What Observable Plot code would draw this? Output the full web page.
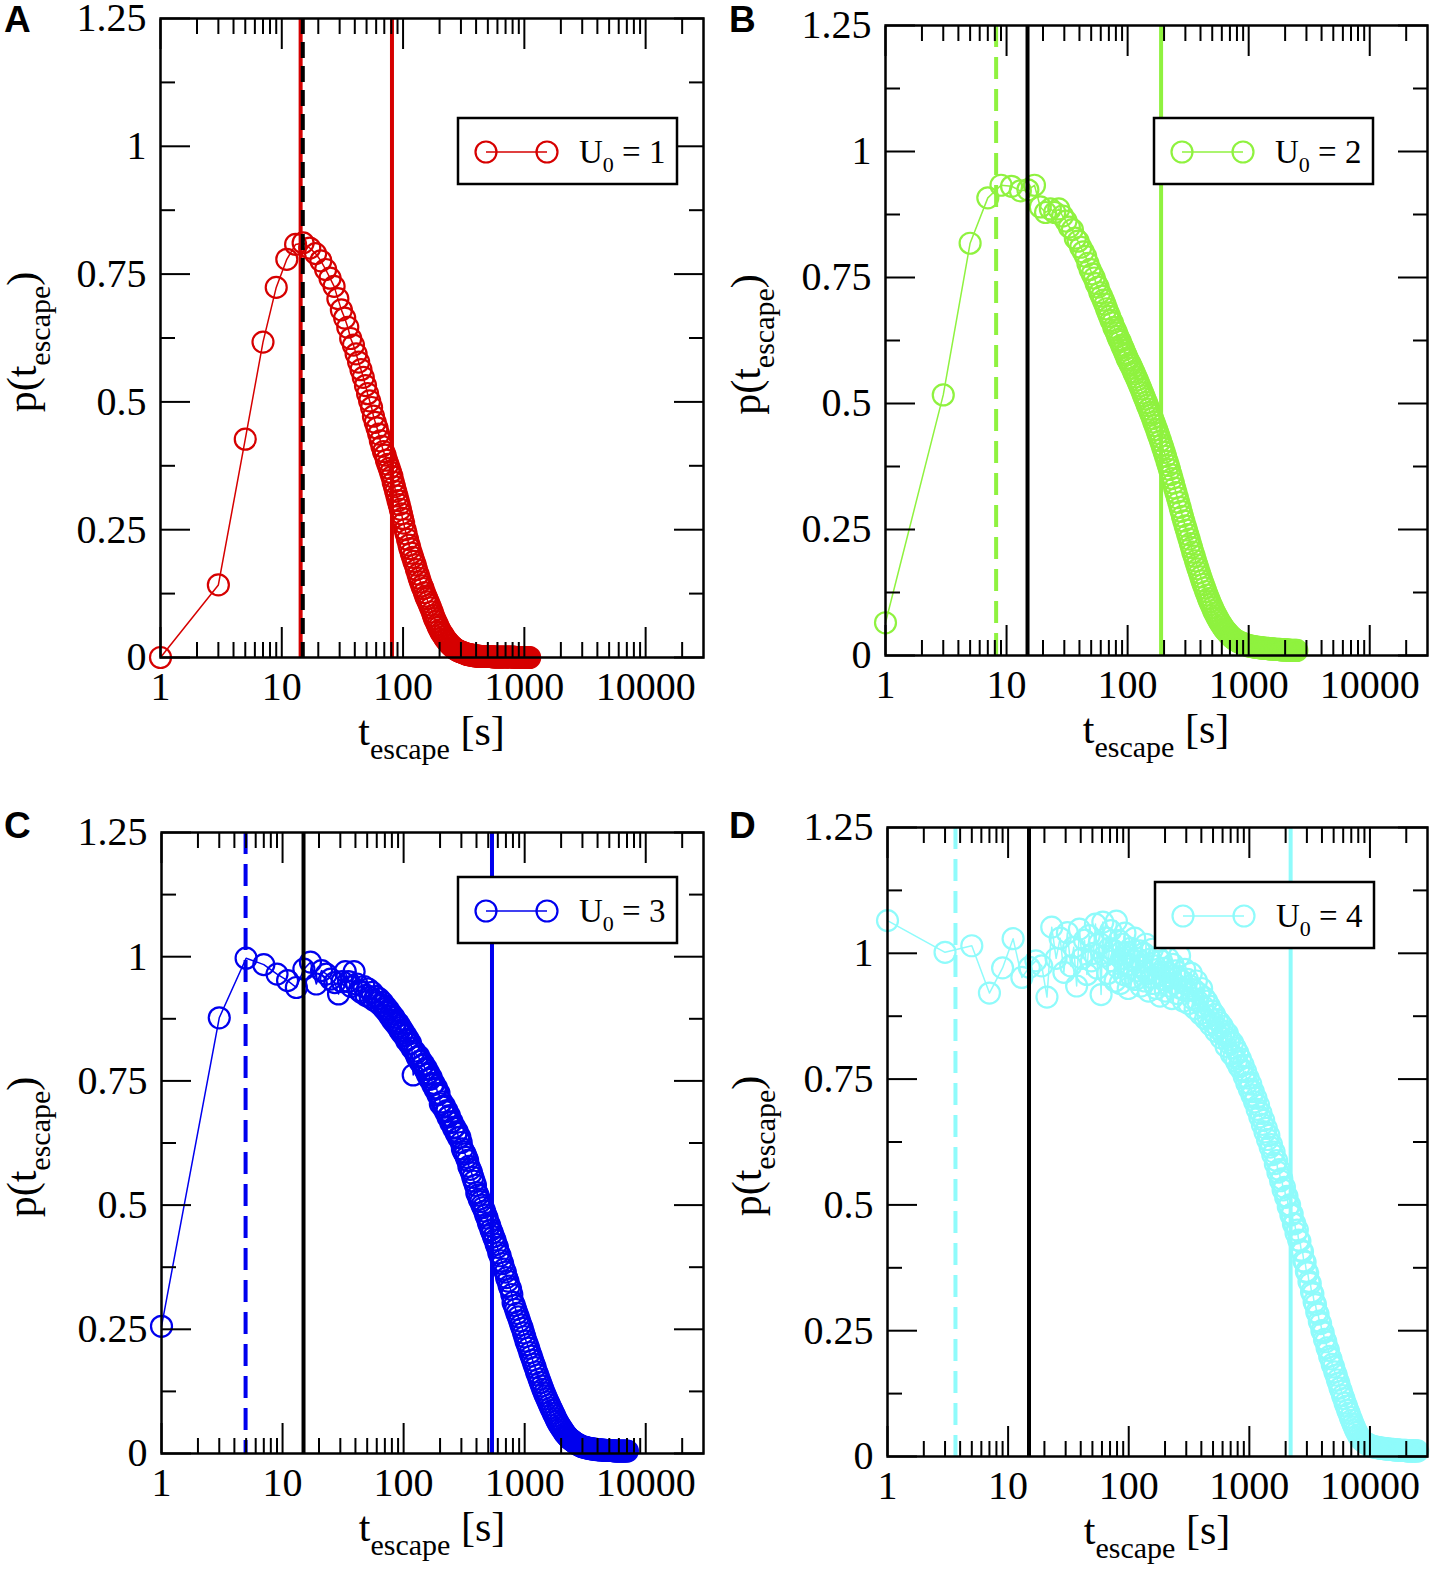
<!DOCTYPE html>
<html>
<head>
<meta charset="utf-8">
<script src="https://cdn.jsdelivr.net/npm/d3@7"></script>
<script src="https://cdn.jsdelivr.net/npm/@observablehq/plot@0.6"></script>
<style>
  body { margin: 0; background: white; }
  #chart { position: relative; width: 1435px; height: 1573px; background: white; }
  #chart svg { position: absolute; }
</style>
</head>
<body>
<div id="chart"></div>
<script>
// bin centres (escape time, s) shared by the four histograms
const tGrid = [1,3,5,7,9,11,13,15,17,19,21,23,25,27,29,31,33,35,37,39,41,43,45,47,49,
  51,53,55,57,59,61,63,65,67,69,71,73,75,77,79,81,83,85,87,89,91,93,95,97,99,
  101,104,106,109,112,114,117,120,123,126,129,133,136,139,143,146,150,154,157,161,
  165,169,174,178,182,187,192,196,201,206,212,217,222,228,233,239,245,251,258,264,
  271,277,284,291,299,306,314,322,330,338,346,355,364,373,382,392,402,412,422,433,
  443,454,466,477,489,502,514,527,540,554,568,582,596,611,627,642,658,675,692,709,
  727,745,764,783,802,822,843,864,886,908,931,954,978,1002,1027,1053,1079,1106,1134,1162,
  1191,1221,1252,1283,1315,1348,1382,1416,1452,1488,1525,1563,1603,1643,1684,1726,1769,1813,1859,1905,
  1953,2002,2052,2103,2156,2210,2265,2321,2379,2439,2500,2562,2626,2692,2759,2828,2899,2972,3046,3122,
  3200,3280,3362,3446,3533,3621,3712,3804,3900,3997,4097,4200,4305,4412,4522,4635,4751,4870,4992,5117,
  5245,5376,5510,5648,5789,5934,6082,6234,6390,6550,6714,6882,7054,7230,7411,7596,7786,7981,8180,8385,
  8594,8809,9029,9255,9487,9724,9967,10216,10472,10734,11002,11277,11559,11848,12144,12448,12759,13078,13405,13740,
  14084,14436,14797,15167,15546,15935,16333,16741,17160,17589,18029,18480,18942,19415,19901,20398,20908,21431,21967,22516,
  23079,23656,24248,24854];

// p(t_escape)
const pA = [0,0.142,0.427,0.617,0.724,0.779,0.808,0.811,0.801,0.790,0.776,0.759,0.742,0.726,0.702,0.680,0.664,0.646,0.624,0.611,0.594,0.578,0.563,0.548,0.532,
  0.516,0.502,0.489,0.472,0.460,0.449,0.437,0.424,0.413,0.403,0.396,0.386,0.378,0.370,0.362,0.354,0.343,0.334,0.325,0.316,0.307,0.299,0.290,0.281,0.272,
  0.263,0.250,0.242,0.231,0.220,0.213,0.204,0.196,0.188,0.181,
  0.172,0.163,0.155,0.148,0.140,0.135,0.127,0.120,0.115,0.109,
  0.103,0.097,0.089,0.082,0.076,0.070,0.064,0.059,0.054,0.049,
  0.045,0.041,0.037,0.034,0.031,0.028,0.025,0.023,0.020,0.018,
  0.016,0.015,0.013,0.012,0.011,0.010,0.009,0.008,0.007,0.006,
  0.006,0.005,0.005,0.004,0.004,0.003,0.003,0.003,0.002,0.002,
  0.002,0.002,0.002,0.002,0.002,0.002,0.002,0.002,0.002,0.001,
  0.001,0.001,0.001,0.001,0.001,0.001,0.001,0.001,0.001,0.001,
  0.001,0.001,0.001,0.001,0.001,0.001,0,0,0,0,
  0,0,0,0,0,0,0,0];

const pB = [0.065,0.517,0.818,0.908,0.933,0.931,0.922,0.924,0.933,0.890,0.879,0.886,0.879,0.886,0.872,0.862,0.850,0.845,0.828,0.822,0.810,0.801,0.792,0.778,0.766,
  0.757,0.749,0.738,0.731,0.720,0.713,0.705,0.697,0.688,0.680,0.673,0.665,0.660,0.651,0.646,0.640,0.633,0.627,0.623,0.616,0.611,0.606,0.600,0.596,0.590,
  0.586,0.580,0.576,0.570,0.563,0.559,0.553,0.547,0.541,0.535,
  0.529,0.521,0.515,0.509,0.502,0.496,0.489,0.482,0.477,0.470,
  0.463,0.456,0.448,0.441,0.434,0.426,0.418,0.411,0.403,0.395,
  0.385,0.377,0.369,0.359,0.351,0.342,0.332,0.323,0.313,0.304,
  0.294,0.286,0.276,0.267,0.257,0.249,0.240,0.231,0.222,0.214,
  0.205,0.197,0.188,0.180,0.172,0.164,0.156,0.148,0.141,0.134,
  0.127,0.120,0.113,0.107,0.101,0.095,0.089,0.084,0.079,0.074,
  0.069,0.065,0.061,0.057,0.053,0.050,0.047,0.044,0.041,0.039,
  0.036,0.034,0.032,0.030,0.029,0.027,0.026,0.025,0.024,0.023,
  0.022,0.021,0.020,0.019,0.019,0.018,0.018,0.017,0.017,0.016,
  0.016,0.016,0.015,0.015,0.015,0.014,0.014,0.014,0.014,0.013,
  0.013,0.013,0.013,0.012,0.012,0.012,0.012,0.012,0.011,0.011,
  0.011,0.011,0.011,0.011,0.010,0.010,0.010,0.010,0.010,0.010,
  0.010];

const pC = [0.256,0.877,0.997,0.984,0.965,0.952,0.938,0.975,0.989,0.945,0.972,0.965,0.955,0.948,0.925,0.950,0.970,0.950,0.940,0.970,0.945,0.932,0.928,0.940,0.922,
  0.935,0.918,0.928,0.912,0.920,0.908,0.915,0.902,0.908,0.895,0.900,0.888,0.893,0.880,0.885,0.872,0.878,0.866,0.870,0.860,0.865,0.852,0.857,0.846,0.850,
  0.841,0.842,0.831,0.834,0.824,0.826,0.816,0.762,0.810,0.805,
  0.798,0.800,0.789,0.791,0.781,0.784,0.773,0.775,0.763,0.766,
  0.753,0.757,0.742,0.745,0.733,0.736,0.722,0.725,0.704,0.708,
  0.697,0.700,0.688,0.690,0.677,0.680,0.666,0.668,0.655,0.657,
  0.645,0.648,0.636,0.637,0.626,0.613,0.607,0.603,0.596,0.590,
  0.578,0.572,0.565,0.556,0.548,0.540,0.525,0.520,0.512,0.507,
  0.500,0.495,0.488,0.480,0.474,0.464,0.459,0.450,0.444,0.436,
  0.430,0.421,0.415,0.404,0.398,0.388,0.382,0.371,0.365,0.354,
  0.347,0.337,0.331,0.320,0.304,0.298,0.290,0.282,0.275,0.267,
  0.259,0.252,0.243,0.235,0.226,0.219,0.212,0.203,0.196,0.188,
  0.180,0.173,0.164,0.158,0.150,0.143,0.136,0.129,0.122,0.116,
  0.110,0.104,0.098,0.092,0.087,0.081,0.076,0.070,0.065,0.060,
  0.056,0.052,0.048,0.044,0.040,0.037,0.034,0.031,0.029,0.027,
  0.025,0.023,0.021,0.019,0.018,0.017,0.015,0.014,0.013,0.013,
  0.012,0.011,0.011,0.010,0.010,0.009,0.009,0.009,0.008,0.008,
  0.008,0.007,0.007,0.007,0.007,0.006,0.006,0.006,0.006,0.006,
  0.006,0.006,0.005,0.005,0.005,0.005,0.005,0.005,0.005,0.005,
  0.005,0.005,0.005];

const pD = [1.065,1.002,1.015,0.921,0.971,1.029,0.952,0.972,0.985,0.975,0.913,1.052,0.990,1.030,0.962,1.041,0.975,1.012,0.935,1.048,0.990,1.026,0.958,1.035,0.985,
  1.000,1.058,0.970,1.020,0.918,1.062,0.995,1.030,0.960,1.010,1.045,0.985,1.005,0.945,1.064,0.972,1.025,0.940,0.990,1.018,0.958,1.040,0.975,1.002,0.930,
  0.978,1.010,0.952,0.985,1.030,0.948,0.990,0.965,1.005,0.935,
  0.972,1.000,0.945,1.018,0.960,0.925,0.988,0.952,1.008,0.940,
  0.975,0.930,0.992,0.958,0.915,0.985,0.948,0.970,0.925,0.962,
  0.990,0.935,0.955,0.910,0.978,0.940,0.965,0.920,0.952,0.995,
  0.930,0.945,0.905,0.968,0.925,0.948,0.900,0.935,0.960,0.910,
  0.928,0.890,0.945,0.905,0.920,0.880,0.930,0.895,0.912,0.870,
  0.905,0.875,0.895,0.858,0.885,0.862,0.878,0.845,0.868,0.850,
  0.862,0.832,0.855,0.838,0.845,0.815,0.840,0.822,0.828,0.800,
  0.822,0.795,0.812,0.785,0.802,0.775,0.790,0.768,0.778,0.755,
  0.765,0.742,0.752,0.730,0.740,0.718,0.725,0.705,0.712,0.690,
  0.698,0.675,0.682,0.660,0.668,0.645,0.652,0.630,0.638,0.615,
  0.620,0.600,0.605,0.582,0.588,0.565,0.570,0.548,0.552,0.530,
  0.535,0.515,0.517,0.497,0.500,0.480,0.482,0.462,0.463,0.444,
  0.450,0.430,0.428,0.410,0.407,0.389,0.386,0.368,0.365,0.348,
  0.344,0.327,0.323,0.307,0.302,0.287,0.283,0.269,0.264,0.250,
  0.246,0.233,0.228,0.216,0.211,0.199,0.194,0.183,0.178,0.168,
  0.162,0.152,0.146,0.136,0.130,0.121,0.115,0.106,0.100,0.092,
  0.086,0.078,0.072,0.065,0.059,0.053,0.048,0.043,0.039,0.035,
  0.032,0.030,0.028,0.026,0.025,0.023,0.022,0.021,0.020,0.019,
  0.019,0.018,0.018,0.017,0.017,0.016,0.016,0.016,0.015,0.015,
  0.015,0.014,0.014,0.014,0.014,0.013,0.013,0.013,0.013,0.012,
  0.012,0.012,0.012,0.012,0.012,0.011,0.011,0.011,0.011,0.011,
  0.011,0.011,0.011,0.011];

// vertical markers (s)
const lowT = [14.3, 8.2, 4.95, 3.66];
const highT = [81, 189, 537, 2200];
const refT = 14.9;

const u0 = [1, 2, 3, 4];
const letters = ["A", "B", "C", "D"];
const colors = ["#d60000", "#8ff23f", "#0000ee", "#8ffbfb"];

const decades = [1, 10, 100, 1000, 10000];
const minorMult = [2, 3, 4, 5, 6, 7, 8, 9];
const minorT = decades.flatMap(d => minorMult.map(m => m * d)).filter(v => v < 30000);
const majorP = [0, 0.25, 0.5, 0.75, 1, 1.25];
const minorP = [0.125, 0.375, 0.625, 0.875, 1.125];

const series = [pA, pB, pC, pD];

// quadrant boxes and frame margins [top, right, bottom, left]
const layout = [
  {left: 0,   top: 0,   w: 717, h: 787, m: [18, 14, 130, 160], legend: [458, 118], yLab: 36},
  {left: 717, top: 0,   w: 718, h: 787, m: [25, 8, 132, 168], legend: [437, 118], yLab: 43},
  {left: 0,   top: 787, w: 717, h: 786, m: [45, 14, 120, 161], legend: [458, 90], yLab: 36},
  {left: 717, top: 787, w: 718, h: 786, m: [40, 8, 117, 170], legend: [438, 95], yLab: 44}
];

const container = d3.select("#chart");

series.forEach((p, k) => {
  const L = layout[k];
  const color = colors[k];
  const data = p.map((v, i) => ({t: tGrid[i], p: v})).filter(d => d.t !== undefined);
  const [mt, mr, mb, ml] = L.m;

  const ticks = (anchor, values, size) =>
    (anchor === "top" || anchor === "bottom" ? Plot.axisX : Plot.axisY)({
      anchor, ticks: values, tickSize: size, fill: "none", label: null, strokeWidth: 2
    });

  const marks = [
    Plot.line(data, {x: "t", y: "p", stroke: color, strokeWidth: 1.5}),
    Plot.dot(data, {x: "t", y: "p", r: 10.5, stroke: color, strokeWidth: 2.2, fill: "none"})
  ];
  if (k === 0) {
    marks.push(
      Plot.ruleX([lowT[k], highT[k]], {stroke: color, strokeWidth: 4}),
      Plot.ruleX([refT], {stroke: "black", strokeWidth: 4, strokeDasharray: "16,8"})
    );
  } else {
    marks.push(
      Plot.ruleX([lowT[k]], {stroke: color, strokeWidth: 4, strokeDasharray: "22,10"}),
      Plot.ruleX([highT[k]], {stroke: color, strokeWidth: 4}),
      Plot.ruleX([refT], {stroke: "black", strokeWidth: 4})
    );
  }
  marks.push(
    ticks("bottom", decades, -30), ticks("top", decades, -30),
    ticks("bottom", minorT, -15), ticks("top", minorT, -15),
    ticks("left", majorP, -30), ticks("right", majorP, -30),
    ticks("left", minorP, -15), ticks("right", minorP, -15),
    Plot.axisX({anchor: "bottom", ticks: decades, tickSize: 0, tickPadding: 14,
      tickFormat: d => String(d), fontSize: 40, label: null}),
    Plot.axisY({anchor: "left", ticks: majorP, tickSize: 0, tickPadding: 14,
      tickFormat: d => String(d), fontSize: 40, label: null}),
    Plot.frame({strokeWidth: 2.5})
  );

  const chart = Plot.plot({
    width: L.w, height: L.h,
    marginTop: mt, marginRight: mr, marginBottom: mb, marginLeft: ml,
    x: {type: "log", domain: [1, 30000]},
    y: {domain: [0, 1.25]},
    style: {fontFamily: "Liberation Serif", background: "white", overflow: "visible", color: "black"},
    marks
  });

  const svg = d3.select(chart)
    .style("left", L.left + "px")
    .style("top", L.top + "px");

  // panel letter
  svg.append("text")
    .attr("x", k % 2 === 0 ? 4 : 12).attr("y", k < 2 ? 32 : 51)
    .attr("text-anchor", "start")
    .attr("font-family", "Liberation Sans").attr("font-weight", "bold")
    .attr("font-size", 37).text(letters[k]);

  // x title
  const xt = svg.append("text")
    .attr("x", ml + (L.w - ml - mr) / 2).attr("y", L.h - mb + 88)
    .attr("text-anchor", "middle").attr("font-family", "Liberation Serif").attr("font-size", 42);
  xt.append("tspan").text("t");
  xt.append("tspan").attr("font-size", 30).attr("dy", 14).text("escape");
  xt.append("tspan").attr("dy", -14).text(" [s]");

  // y title
  const cy = (mt + L.h - mb) / 2 + 4.5;
  const yt = svg.append("text")
    .attr("transform", `translate(${L.yLab},${cy}) rotate(-90)`)
    .attr("text-anchor", "middle").attr("font-family", "Liberation Serif").attr("font-size", 42);
  yt.append("tspan").text("p(t");
  yt.append("tspan").attr("font-size", 30).attr("dy", 14).text("escape");
  yt.append("tspan").attr("dy", -14).text(")");

  // legend box
  const g = svg.append("g").attr("transform", `translate(${L.legend[0]},${L.legend[1]})`);
  g.append("rect").attr("width", 219).attr("height", 66)
    .attr("fill", "white").attr("stroke", "black").attr("stroke-width", 2.5);
  g.append("line").attr("x1", 28).attr("x2", 89).attr("y1", 34).attr("y2", 34)
    .attr("stroke", color).attr("stroke-width", 1.5);
  g.selectAll("circle").data([28, 89]).join("circle")
    .attr("cx", d => d).attr("cy", 34).attr("r", 10.5)
    .attr("fill", "none").attr("stroke", color).attr("stroke-width", 2.2);
  const lt = g.append("text").attr("x", 121).attr("y", 45)
    .attr("text-anchor", "start")
    .attr("font-family", "Liberation Serif").attr("font-size", 33);
  lt.append("tspan").text("U");
  lt.append("tspan").attr("font-size", 22).attr("dy", 9).text("0");
  lt.append("tspan").attr("dy", -9).text(` = ${u0[k]}`);

  container.append(() => chart);
});
</script>
</body>
</html>
